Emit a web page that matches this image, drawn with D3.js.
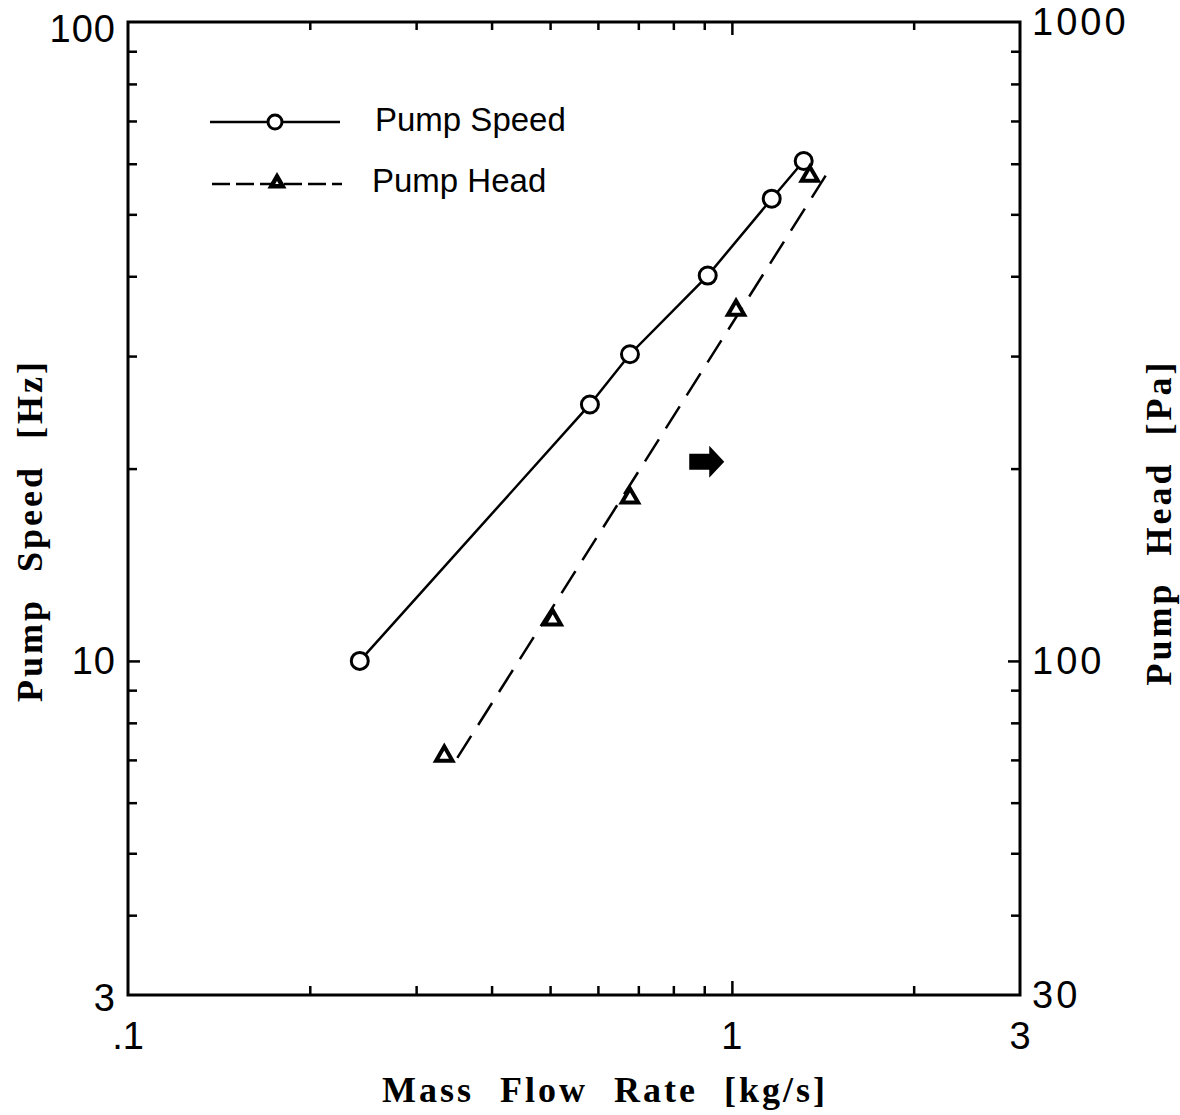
<!DOCTYPE html>
<html>
<head>
<meta charset="utf-8">
<script src="https://cdn.jsdelivr.net/npm/d3@7"></script>
<style>
  html, body { margin: 0; padding: 0; background: #fff; }
  svg { display: block; }
</style>
</head>
<body>
<svg id="chart" width="1180" height="1115"></svg>
<script>
// ---- data ----
const flowSpeed = [0.242, 0.582, 0.678, 0.912, 1.164, 1.315];   // kg/s
const pumpSpeed = [10.0, 25.2, 30.2, 40.1, 52.9, 60.6];         // Hz
const flowHead  = [0.334, 0.505, 0.678, 1.016, 1.346];          // kg/s
const pumpHead  = [71, 116, 180, 354, 574];                     // Pa
const headFitFlow = [0.351, 1.442];
const headFitHead = [70.5, 582];
const xTicksMinor = [0.2, 0.3, 0.4, 0.5, 0.6, 0.7, 0.8, 0.9, 2];
const xTicksMajor = [1];
const xLabels = [".1", "1", "3"];
const xLabelValues = [0.1, 1, 3];
const yLeftTicks = [4, 5, 6, 7, 8, 9, 20, 30, 40, 50, 60, 70, 80, 90];
const yLeftMajor = [10];
const yLeftLabels = ["3", "10", "100"];
const yLeftLabelValues = [3, 10, 100];
const yRightTicks = [40, 50, 60, 70, 80, 90, 200, 300, 400, 500, 600, 700, 800, 900];
const yRightMajor = [100];
const yRightLabels = ["30", "100", "1000"];
const yRightLabelValues = [30, 100, 1000];
const arrowAt = [0.9, 20.5];  // annotation arrow (flow, speed)

// ---- layout ----
const L = 128, R = 1020, T = 22, B = 995;
const svg = d3.select("#chart");

const x = d3.scaleLog().domain([0.1, 3]).range([L, R]);
const yL = d3.scaleLog().domain([3, 100]).range([B, T]);
const yR = d3.scaleLog().domain([30, 1000]).range([B, T]);

const sansFont = "'Liberation Sans', Arial, Helvetica, sans-serif";
const serifFont = "'Liberation Serif', 'Times New Roman', serif";

// ---- ticks (inward) ----
function drawAxis(axis, tr) {
  const g = svg.append("g").attr("transform", tr).call(axis);
  g.select(".domain").remove();
  g.selectAll("line").attr("stroke", "#000").attr("stroke-width", 2.5);
  g.selectAll("text").remove();
  return g;
}
drawAxis(d3.axisBottom(x).tickValues(xTicksMinor).tickSize(-9), `translate(0,${B})`);
drawAxis(d3.axisBottom(x).tickValues(xTicksMajor).tickSize(-14), `translate(0,${B})`);
drawAxis(d3.axisTop(x).tickValues(xTicksMinor).tickSize(-8), `translate(0,${T})`);
drawAxis(d3.axisTop(x).tickValues(xTicksMajor).tickSize(-13), `translate(0,${T})`);
drawAxis(d3.axisLeft(yL).tickValues(yLeftTicks).tickSize(-9), `translate(${L},0)`);
drawAxis(d3.axisLeft(yL).tickValues(yLeftMajor).tickSize(-12), `translate(${L},0)`);
drawAxis(d3.axisRight(yR).tickValues(yRightTicks).tickSize(-9), `translate(${R},0)`);
drawAxis(d3.axisRight(yR).tickValues(yRightMajor).tickSize(-12), `translate(${R},0)`);

// frame
svg.append("rect")
  .attr("x", L).attr("y", T).attr("width", R - L).attr("height", B - T)
  .attr("fill", "none").attr("stroke", "#000").attr("stroke-width", 3);

// ---- tick labels ----
svg.append("g").selectAll("text").data(xLabelValues).join("text")
  .attr("x", d => x(d)).attr("y", B + 54)
  .attr("text-anchor", "middle")
  .attr("font-family", sansFont).attr("font-size", 38)
  .text((d, i) => xLabels[i]);

svg.append("g").selectAll("text").data(yLeftLabelValues).join("text")
  .attr("x", L - 12).attr("y", d => yL(d) + 13 + (d === 100 ? 7 : 0) + (d === 3 ? 3 : 0))
  .attr("text-anchor", "end")
  .attr("font-family", sansFont).attr("font-size", 38)
  .attr("letter-spacing", 1)
  .text((d, i) => yLeftLabels[i]);

svg.append("g").selectAll("text").data(yRightLabelValues).join("text")
  .attr("x", R + 12).attr("y", d => yR(d) + 13)
  .attr("text-anchor", "start")
  .attr("font-family", sansFont).attr("font-size", 38)
  .attr("letter-spacing", 3)
  .text((d, i) => yRightLabels[i]);

// ---- axis titles ----
svg.append("text")
  .attr("transform", `translate(${(L + R) / 2 + 31},1102)`)
  .attr("text-anchor", "middle")
  .attr("font-family", serifFont).attr("font-weight", "bold").attr("font-size", 36)
  .attr("letter-spacing", 3).attr("word-spacing", 14)
  .text("Mass Flow Rate [kg/s]");

svg.append("text")
  .attr("transform", `translate(42,${(T + B) / 2 + 22}) rotate(-90)`)
  .attr("text-anchor", "middle")
  .attr("font-family", serifFont).attr("font-weight", "bold").attr("font-size", 36)
  .attr("letter-spacing", 3).attr("word-spacing", 14)
  .text("Pump Speed [Hz]");

svg.append("text")
  .attr("transform", `translate(1171,${(T + B) / 2 + 14}) rotate(-90)`)
  .attr("text-anchor", "middle")
  .attr("font-family", serifFont).attr("font-weight", "bold").attr("font-size", 36)
  .attr("letter-spacing", 3).attr("word-spacing", 14)
  .text("Pump Head [Pa]");

// ---- series ----
const speedPts = flowSpeed.map((f, i) => [f, pumpSpeed[i]]);
const headPts = flowHead.map((f, i) => [f, pumpHead[i]]);

svg.append("path")
  .datum(speedPts)
  .attr("d", d3.line().x(d => x(d[0])).y(d => yL(d[1])))
  .attr("fill", "none").attr("stroke", "#000").attr("stroke-width", 2.5);

svg.append("path")
  .datum(headFitFlow.map((f, i) => [f, headFitHead[i]]))
  .attr("d", d3.line().x(d => x(d[0])).y(d => yR(d[1])))
  .attr("fill", "none").attr("stroke", "#000").attr("stroke-width", 2.5)
  .attr("stroke-dasharray", "26,13");

svg.append("g").selectAll("circle").data(speedPts).join("circle")
  .attr("cx", d => x(d[0])).attr("cy", d => yL(d[1])).attr("r", 8.5)
  .attr("fill", "#fff").attr("stroke", "#000").attr("stroke-width", 3);

const tri = d3.symbol().type(d3.symbolTriangle).size(115);
svg.append("g").selectAll("path").data(headPts).join("path")
  .attr("transform", d => `translate(${x(d[0])},${yR(d[1])})`)
  .attr("d", tri)
  .attr("fill", "#fff").attr("stroke", "#000").attr("stroke-width", 4)
  .attr("stroke-linejoin", "miter");

// ---- annotation arrow (points to right axis) ----
const ax = x(arrowAt[0]), ay = yL(arrowAt[1]);
svg.append("path")
  .attr("d", d3.line()([
    [ax - 15, ay - 8], [ax + 5, ay - 8], [ax + 5, ay - 16], [ax + 20, ay],
    [ax + 5, ay + 16], [ax + 5, ay + 8], [ax - 15, ay + 8]
  ]) + "Z")
  .attr("fill", "#000");

// ---- legend ----
const leg = svg.append("g");
leg.append("line").attr("x1", 210).attr("x2", 340).attr("y1", 122).attr("y2", 122)
  .attr("stroke", "#000").attr("stroke-width", 2.5);
leg.append("circle").attr("cx", 275).attr("cy", 122).attr("r", 7)
  .attr("fill", "#fff").attr("stroke", "#000").attr("stroke-width", 3);
leg.append("text").attr("x", 375).attr("y", 131)
  .attr("font-family", sansFont).attr("font-size", 33)
  .text("Pump Speed");

leg.append("line").attr("x1", 212).attr("x2", 342).attr("y1", 184).attr("y2", 184)
  .attr("stroke", "#000").attr("stroke-width", 2.5)
  .attr("stroke-dasharray", "18,6");
leg.append("path").attr("transform", "translate(277,183)")
  .attr("d", d3.symbol().type(d3.symbolTriangle).size(55))
  .attr("fill", "#fff").attr("stroke", "#000").attr("stroke-width", 4.5);
leg.append("text").attr("x", 372).attr("y", 192)
  .attr("font-family", sansFont).attr("font-size", 33)
  .text("Pump Head");
</script>
</body>
</html>
